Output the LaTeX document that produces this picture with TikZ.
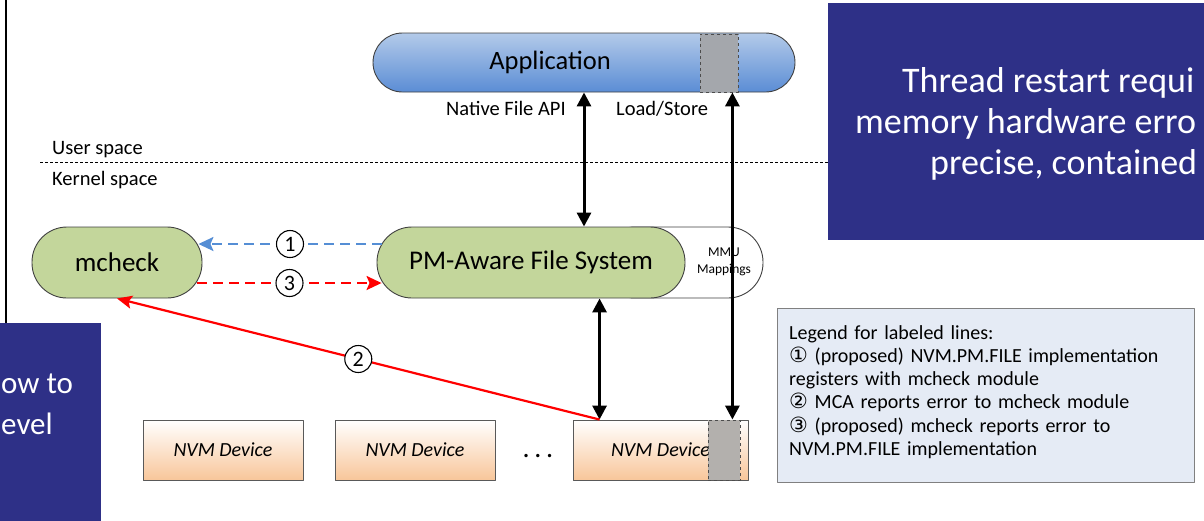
\documentclass[tikz,border=0pt]{standalone}
\usepackage{fontspec}
\setmainfont{Carlito}
\newfontfamily\symfont{DejaVu Sans}
\usetikzlibrary{arrows.meta}

\definecolor{appblue}{HTML}{5B8DD5}
\definecolor{applight}{HTML}{B3CAE9}
\definecolor{fsgreen}{HTML}{C3D69B}
\definecolor{slideblue}{HTML}{2E3087}
\definecolor{nvmpeach}{HTML}{F8C69A}
\definecolor{cachegray}{HTML}{A4A7AC}
\definecolor{nvmgray}{HTML}{B3B0AD}
\definecolor{legendfill}{HTML}{E5EBF5}
\definecolor{linkblue}{HTML}{558ED5}
\definecolor{linkred}{HTML}{FF0000}

\newcommand{\legnum}[1]{{\symfont\fontsize{21}{23.3}\selectfont #1}}

\begin{document}
\begin{tikzpicture}[x=1pt,y=-1pt,line join=round,
    pill/.style={draw=black!75,line width=0.9pt,rounded corners=35pt,minimum height=71pt,inner sep=0pt,font=\fontsize{27}{32}\selectfont},
    cachebox/.style={draw=black!70,dashed,line width=0.8pt,inner sep=0pt,minimum width=#1},
    nvmbox/.style={draw=black!65,line width=0.9pt,top color=white,bottom color=nvmpeach,minimum height=60pt,inner sep=0pt,font=\fontsize{20}{24}\selectfont\itshape},
    lbl/.style={font=\fontsize{20.5}{24}\selectfont,inner sep=0pt,anchor=base west},
    numcirc/.style={circle,solid,draw=black,line width=1.1pt,fill=white,minimum size=27pt,inner sep=0pt,font=\fontsize{22}{24}\selectfont,text=black},
    biarrow/.style={{Triangle[length=14pt,width=14pt]}-{Triangle[length=14pt,width=14pt]},line width=3pt},
    reglink/.style={-{Stealth[length=15pt,width=14pt,inset=3pt]},line width=2.2pt,dash pattern=on 10pt off 6pt},
    slidetext/.style={text=white,font=\fontsize{36}{41}\selectfont,inner sep=0pt},
    ]
    \useasboundingbox (0,0) rectangle (1204,520);
    \clip (0,0) rectangle (1204,520);
    % user / kernel boundary
    \draw[line width=2pt] (6,0) -- (6,323);
    \draw[dashed,line width=0.8pt,dash pattern=on 3pt off 2pt] (40,162) -- (830,162);
    \node[lbl] (userspace) at (52,154) {User space};
    \node[lbl] (kernelspace) at (52,185) {Kernel space};
    % application
    \node[pill,rounded corners=29.5pt,minimum height=59pt,minimum width=422pt,top color=applight,bottom color=appblue] (app) at (584,62.5) {};
    \node[font=\fontsize{26.5}{30}\selectfont] (apptext) at (550,62.5) {Application};
    \node[cachebox=38pt,minimum height=58pt,fill=cachegray] (appcache) at (719,63) {};
    \node[lbl] (nativeapi) at (446,115) {Native File API};
    \node[lbl] (loadstore) at (616,115) {Load/Store};
    % kernel modules
    \node[pill,minimum width=170pt,fill=fsgreen] (mcheck) at (117,262.5) {mcheck};
    \node[pill,minimum width=163pt,fill=white] (mmu) at (681.5,262.5) {};
    \node[align=center,inner sep=0pt,font=\fontsize{13.5}{17}\selectfont] (mmutext) at (724,262) {MMU\\Mappings};
    \node[pill,minimum width=308pt,fill=fsgreen] (pmfs) at (531,262.5) {PM-Aware File System};
    % devices
    \foreach \name/\cx/\w in {nvm1/223/160,nvm2/415/160,nvm3/660.5/175}
        \node[nvmbox,minimum width=\w pt] (\name) at (\cx,450) {NVM Device};
    \node[cachebox=32pt,minimum height=60pt,fill=nvmgray] (nvmcache) at (724,450) {};
    \node[inner sep=0pt,font=\fontsize{28}{30}\selectfont] (dots) at (538,456) {.\,.\,.};
    % connectors
    \draw[biarrow] (app.south) -- (app.south |- pmfs.north);
    \draw[biarrow] ([xshift=27pt]nvm3.north west) -- ([xshift=27pt]nvm3.north west |- pmfs.south);
    \draw[biarrow] ([xshift=-6pt]appcache.south east) -- ([xshift=-6pt]appcache.south east |- nvm3.north);
    \draw[reglink,linkblue] ([shift={(5pt,18.5pt)}]pmfs.west) -- node[numcirc] (lab1) {1} ([shift={(-4pt,18.5pt)}]mcheck.east);
    \draw[reglink,linkred] ([shift={(-5pt,-20.5pt)}]mcheck.east) -- node[numcirc] (lab3) {3} ([shift={(5pt,-20.5pt)}]pmfs.west);
    \draw[-{Stealth[length=15pt,width=13pt,inset=3pt]},line width=2.2pt,linkred] ([xshift=27pt]nvm3.north west) -- node[numcirc] (lab2) {2} (mcheck.south);
    % legend
    \node[draw=black!50,line width=0.9pt,fill=legendfill,minimum width=417pt,minimum height=174pt] (legend) at (985.5,395) {};
    \node[anchor=north west,inner sep=0pt,align=left,text width=405pt,font=\fontsize{20}{23.3}\selectfont] (legendtext) at (789,325)
        {Legend for labeled lines:\\
         \legnum{①} (proposed) NVM.PM.FILE implementation\\
         registers with mcheck module\\
         \legnum{②} MCA reports error to mcheck module\\
         \legnum{③} (proposed) mcheck reports error to\\
         NVM.PM.FILE implementation};
    % overlapping slides
    \fill[slideblue] (828,3) rectangle (1210,240);
    \fill[slideblue] (-5,323) rectangle (101,525);
    \node[slidetext,anchor=base west] (slideA) at (902,92) {Thread restart requi};
    \node[slidetext,anchor=base west] (slideB) at (855,133) {memory hardware erro};
    \node[slidetext,anchor=base west] (slideC) at (930,174) {precise, contained};
    \node[slidetext,font=\fontsize{31}{36}\selectfont,anchor=base west] (slideD) at (1,393) {ow to};
    \node[slidetext,font=\fontsize{31}{36}\selectfont,anchor=base west] (slideE) at (1,434) {evel};
\end{tikzpicture}
\end{document}
